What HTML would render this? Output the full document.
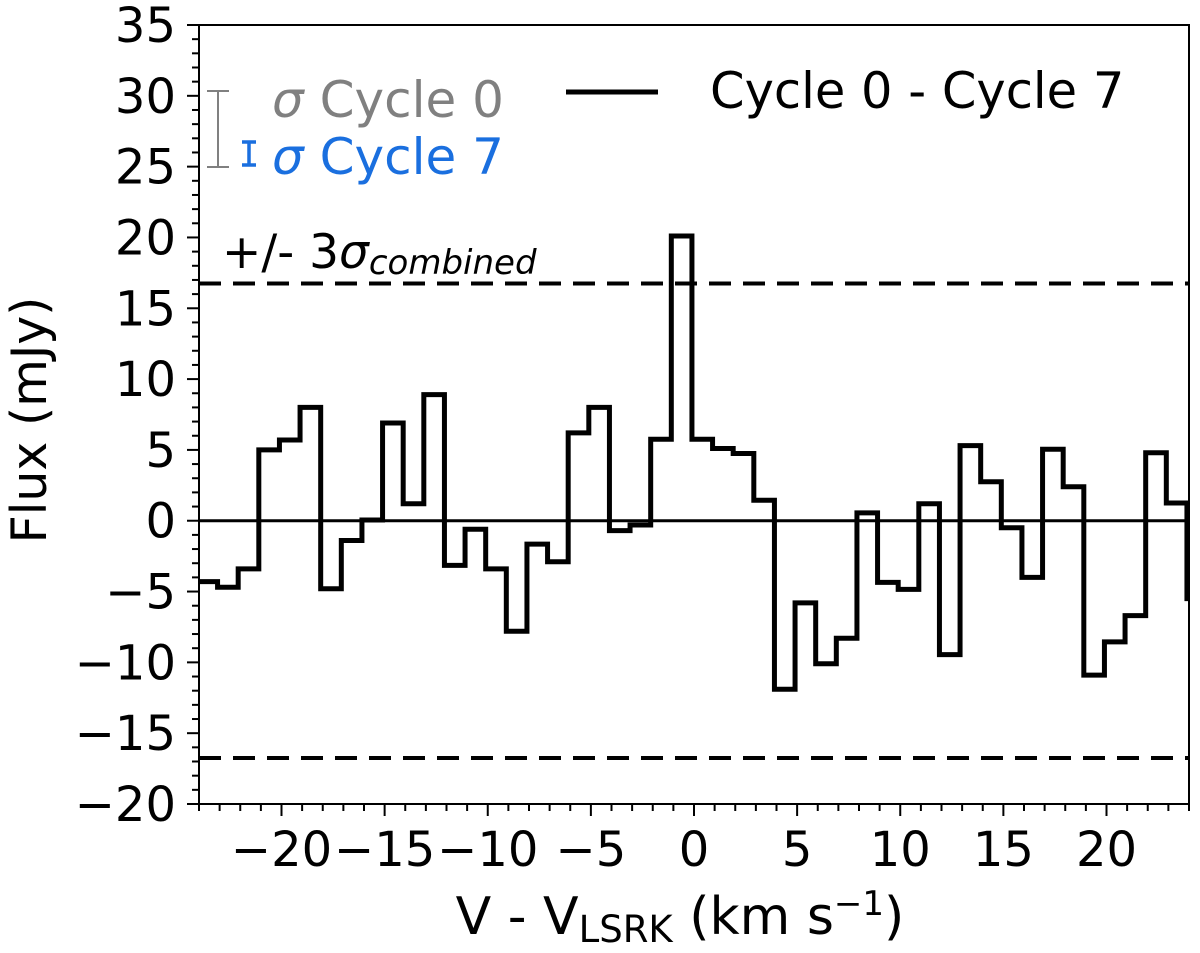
<!DOCTYPE html>
<html><head><meta charset="utf-8"><style>
html,body{margin:0;padding:0;background:#fff;}
svg{display:block;font-family:"DejaVu Sans","Liberation Sans",sans-serif;}
</style></head><body>
<svg id="chart" width="1200" height="953" viewBox="0 0 1200 953" xmlns="http://www.w3.org/2000/svg">
<g id="ticks"></g>
<g id="marks"></g>
<rect x="199" y="25" width="990" height="779" fill="none" stroke="#000" stroke-width="2"/>
<g>
  <path d="M218 91 V167 M207 91 H229 M207 167 H229" stroke="#808080" stroke-width="2" fill="none"/>
  <path d="M249 142 V165 M242 142 H256 M242 165 H256" stroke="#1a6fdf" stroke-width="3.5" fill="none"/>
  <text x="272" y="117" font-size="50" fill="#808080"><tspan font-style="italic">σ</tspan> Cycle 0</text>
  <text x="272" y="174" font-size="50" fill="#1a6fdf"><tspan font-style="italic">σ</tspan> Cycle 7</text>
</g>
<g>
  <line x1="566" y1="92" x2="658" y2="92" stroke="#000" stroke-width="5"/>
  <text x="710" y="108" font-size="49.5">Cycle 0 - Cycle 7</text>
</g>
<text x="222" y="268" font-size="47">+/- 3<tspan font-style="italic">σ</tspan><tspan font-style="italic" font-size="34" dy="6">combined</tspan></text>
<text x="680" y="934" font-size="52" text-anchor="middle">V - V<tspan font-size="37" dy="8">LSRK</tspan><tspan dy="-8"> (km s</tspan><tspan font-size="34" dy="-19">−1</tspan><tspan dy="19">)</tspan></text>
<text transform="translate(46,420) rotate(-90)" font-size="49" text-anchor="middle">Flux (mJy)</text>
</svg>
<script>
const flux = [-4.3,-4.7,-3.4,5.0,5.7,8.0,-4.8,-1.4,0.05,6.9,1.2,8.9,-3.15,-0.6,-3.4,-7.8,-1.65,-2.9,6.2,8.0,-0.7,-0.3,5.75,20.1,5.75,5.1,4.75,1.45,-11.9,-5.8,-10.1,-8.3,0.55,-4.35,-4.85,1.2,-9.45,5.3,2.75,-0.5,-4.0,5.05,2.4,-10.9,-8.55,-6.7,4.8,1.25,-5.5];
const firstEdge = [-24.1];
const channelWidth = [1.0];
const threeSigma = [16.75];
const xTicks = [-20,-15,-10,-5,0,5,10,15,20];
const yTicks = [-20,-15,-10,-5,0,5,10,15,20,25,30,35];
const xLim = [-24,24], yLim = [-20,35];
const L=199,R=1189,T=25,B=804;
const sx = v => L + (v - xLim[0]) / (xLim[1]-xLim[0]) * (R-L);
const sy = v => B - (v - yLim[0]) / (yLim[1]-yLim[0]) * (B-T);
const NS='http://www.w3.org/2000/svg';
const marks=document.getElementById('marks'), ticks=document.getElementById('ticks');
function mk(tag,attrs,parent){const e=document.createElementNS(NS,tag);for(const k in attrs)e.setAttribute(k,attrs[k]);parent.appendChild(e);return e;}
const clipx=v=>Math.max(L,Math.min(R,v));
let z=mk('line',{x1:L,x2:R,y1:sy(0),y2:sy(0),stroke:'#000','stroke-width':3},marks);


[threeSigma[0],-threeSigma[0]].forEach((v,i)=>{
  const d=mk('line',{x1:L,x2:R,y1:sy(v),y2:sy(v),stroke:'#000','stroke-width':4,'stroke-dasharray':'22 12'},marks);
  
  
});
let p='';
flux.forEach((f,i)=>{
  const x0=clipx(sx(firstEdge[0]+i*channelWidth[0])), x1=clipx(sx(firstEdge[0]+(i+1)*channelWidth[0]));
  const y=sy(f);
  p += (i==0?'M':'L')+x0+' '+y+' L'+x1+' '+y+' ';
});
const st=mk('path',{d:p,fill:'none',stroke:'#000','stroke-width':5,'stroke-linejoin':'miter'},marks);


for(let v=xLim[0];v<=xLim[1];v++){
  const major=xTicks.includes(v);
  const t=mk('line',{x1:sx(v),x2:sx(v),y1:B,y2:B+(major?12:7),stroke:'#000','stroke-width':2},ticks);
  
  
}
xTicks.forEach(v=>{
  const t=mk('text',{x:sx(v),y:866,'font-size':48,'text-anchor':'middle'},ticks);
  t.textContent=(v<0?'−':'')+Math.abs(v);
  
  
});
for(let v=yLim[0];v<=yLim[1];v++){
  const major=yTicks.includes(v);
  const t=mk('line',{x1:L,x2:L-(major?12:7),y1:sy(v),y2:sy(v),stroke:'#000','stroke-width':2},ticks);
  
  
}
yTicks.forEach(v=>{
  const t=mk('text',{x:176,y:sy(v)+17,'font-size':48,'text-anchor':'end'},ticks);
  t.textContent=(v<0?'−':'')+Math.abs(v);
  
  
});
</script>
</body></html>
